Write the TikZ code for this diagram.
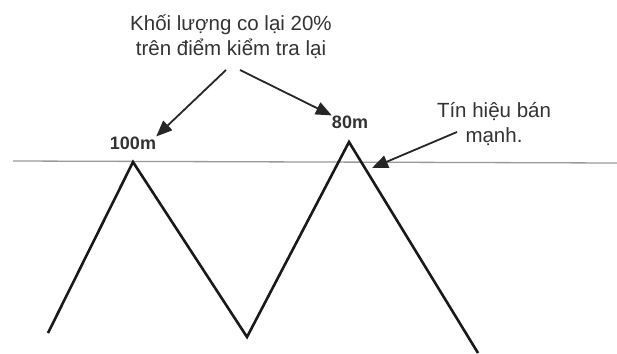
\documentclass[tikz,border=0pt]{standalone}
\usepackage{fontspec}
\setmainfont{Liberation Sans}
\usetikzlibrary{arrows.meta}

\begin{document}
\begin{tikzpicture}[x=1pt,y=-1pt,
    pointer/.style={-{Triangle[length=16pt,width=13pt]},line width=1.8pt,black!85},
    zig/.style={line width=2.6pt,black!90},
    note/.style={font=\fontsize{20.5}{25}\selectfont,align=center,inner sep=0pt,text=black!80},
    peak/.style={font=\fontsize{18}{20}\selectfont\bfseries,inner sep=0pt,text=black!80}]
    \useasboundingbox (0,0) rectangle (617,353);

    % threshold line
    \draw[gray!80,line width=1.3pt] (13,161) -- (617,163);

    % zigzag
    \coordinate (z0) at (48,333);
    \coordinate (p1) at (133,162);
    \coordinate (t1) at (247,337);
    \coordinate (p2) at (349,142);
    \coordinate (z4) at (478,353);
    \draw[zig] (z0) -- (p1) -- (t1) -- (p2) -- (z4);

    % labels
    \node[note] (shrink) at (231,37) {Khối lượng co lại 20\%\\trên điểm kiểm tra lại};
    \node[peak] (m100) at (133,143) {100m};
    \node[peak] (m80) at (350,122) {80m};
    \node[note] (signal) at (494,124) {Tín hiệu bán\\mạnh.};

    % arrows
    \coordinate (s1) at (226,70);
    \coordinate (s2) at (240,70);
    \coordinate (s3) at (457,132);
    \coordinate (hit) at (372,168);
    \draw[pointer] (s1) -- (m100.north east);
    \draw[pointer] (s2) -- (m80.north west);
    \draw[pointer] (s3) -- (hit);
\end{tikzpicture}
\end{document}
